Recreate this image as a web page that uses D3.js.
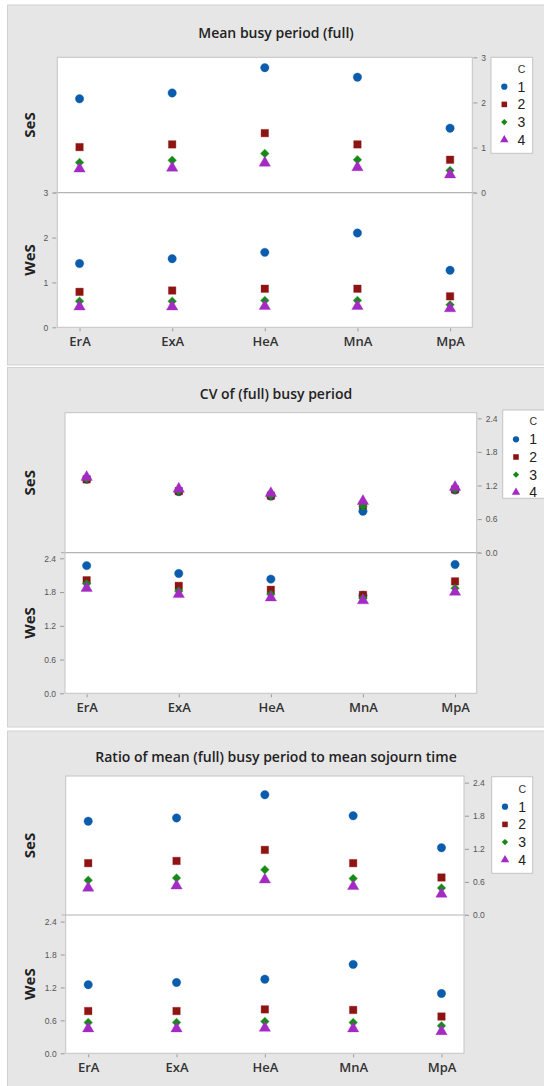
<!DOCTYPE html>
<html><head><meta charset="utf-8">
<script src="https://cdn.jsdelivr.net/npm/d3@7/dist/d3.min.js"></script>
<style>
html,body{margin:0;padding:0;background:#fff;}
svg{display:block;font-family:"Open Sans","Noto Sans",sans-serif;}
</style></head>
<body>
<script>
const categories = ["ErA","ExA","HeA","MnA","MpA"];
const groups = ["1","2","3","4"];
const facets = ["SeS","WeS"];
const titles = ["Mean busy period (full)","CV of (full) busy period","Ratio of mean (full) busy period to mean sojourn time"];
const busyTicks = [0,1,2,3];
const cvTicks = [0,0.6,1.2,1.8,2.4];
const ratioTicks = [0,0.6,1.2,1.8,2.4];

// rows = c 1..4, columns = categories
const busySeS = [[2.08,2.21,2.77,2.56,1.43],[1.01,1.07,1.32,1.07,0.73],[0.67,0.72,0.87,0.73,0.49],[0.53,0.55,0.66,0.56,0.40]];
const busyWeS = [[1.42,1.53,1.67,2.10,1.27],[0.79,0.82,0.86,0.86,0.69],[0.58,0.58,0.60,0.60,0.50],[0.46,0.46,0.47,0.47,0.42]];
const cvSeS = [[1.31,1.09,1.01,0.74,1.12],[1.31,1.10,1.02,0.85,1.13],[1.32,1.10,1.02,0.83,1.13],[1.35,1.14,1.06,0.92,1.17]];
const cvWeS = [[2.27,2.13,2.03,1.74,2.29],[2.01,1.91,1.84,1.75,1.99],[1.95,1.82,1.76,1.69,1.87],[1.87,1.76,1.70,1.65,1.80]];
const ratioSeS = [[1.70,1.76,2.18,1.80,1.22],[0.94,0.98,1.18,0.94,0.68],[0.63,0.67,0.82,0.66,0.49],[0.49,0.53,0.64,0.52,0.38]];
const ratioWeS = [[1.25,1.29,1.35,1.62,1.09],[0.77,0.77,0.80,0.79,0.67],[0.56,0.56,0.58,0.56,0.50],[0.45,0.45,0.46,0.45,0.40]];

const colors = ["#0b5cad","#8e1414","#168a16","#a42ac4"];
const shapes = [d3.symbolCircle,d3.symbolSquare,d3.symbolSquare,d3.symbolTriangle];
const sizes = [56,56,36,56];
const rot = [0,0,45,0];

const svg = d3.select("body").append("svg").attr("width",544).attr("height",1086);
svg.append("rect").attr("width",544).attr("height",1086).attr("fill","#fff");

function panel(o){
  const g = svg.append("g");
  g.append("rect").attr("x",7.5).attr("y",o.py).attr("width",540).attr("height",o.ph)
    .attr("fill","#e6e6e6").attr("stroke","#d2d2d2");
  g.append("text").attr("x",276).attr("y",o.ty).attr("text-anchor","middle")
    .attr("dominant-baseline","central").attr("font-size",14).attr("font-weight",600)
    .attr("fill","#222").text(o.title);
  const x = d3.scalePoint().domain(categories).range([o.left,o.right]).padding(o.pad);
  const yTop = d3.scaleLinear().domain([0,o.max]).range([o.mid,o.top]);
  const yBot = d3.scaleLinear().domain([0,o.max]).range([o.bottom,o.mid]);
  g.append("rect").attr("x",o.left).attr("y",o.top).attr("width",o.right-o.left)
    .attr("height",o.bottom-o.top).attr("fill","#fff");

  const styleAxis = sel=>{
    sel.select(".domain").remove();
    sel.selectAll(".tick line").attr("stroke","#9a9a9a");
    sel.selectAll(".tick text").attr("fill","#555").attr("font-size",8.5)
      .attr("font-family","'Liberation Sans','DejaVu Sans',sans-serif");
  };
  g.append("g").attr("transform",`translate(${o.right+1},0)`)
    .call(d3.axisRight(yTop).tickValues(o.ticks).tickFormat(o.fmt).tickSize(4).tickPadding(4)).call(styleAxis);
  g.append("g").attr("transform",`translate(${o.left-1},0)`)
    .call(d3.axisLeft(yBot).tickValues(o.ticks).tickFormat(o.fmt).tickSize(4).tickPadding(4)).call(styleAxis);
  const xa = g.append("g").attr("transform",`translate(0,${o.bottom+1})`)
    .call(d3.axisBottom(x).tickSize(3).tickPadding(5));
  xa.select(".domain").remove();
  xa.selectAll(".tick line").attr("stroke","#9a9a9a");
  xa.selectAll(".tick text").attr("fill","#333").attr("font-size",13).attr("font-weight",600)
    .attr("font-family","'Open Sans',sans-serif");

  g.append("line").attr("x1",o.left-4).attr("x2",o.right+4).attr("y1",o.mid).attr("y2",o.mid)
    .attr("stroke","#b4b4b4").attr("stroke-width",1.2);
  g.append("rect").attr("x",o.left).attr("y",o.top).attr("width",o.right-o.left)
    .attr("height",o.bottom-o.top).attr("fill","none").attr("stroke","#c4c4c4");

  [[o.dTop,yTop],[o.dBot,yBot]].forEach(([data,y])=>{
    data.forEach((row,gi)=>{
      g.selectAll(null).data(row).enter().append("path")
        .attr("d",d3.symbol().type(shapes[gi]).size(sizes[gi]))
        .attr("transform",(d,i)=>`translate(${x(categories[i])},${y(d)}) rotate(${rot[gi]})`)
        .attr("fill",colors[gi]).attr("stroke",colors[gi]).attr("stroke-opacity",0.35).attr("stroke-width",1);
    });
  });

  facets.forEach((f,i)=>{
    const cy = i===0 ? (o.top+o.mid)/2 : (o.mid+o.bottom)/2;
    g.append("text").attr("transform",`translate(29,${cy}) rotate(-90)`)
      .attr("text-anchor","middle").attr("dominant-baseline","central")
      .attr("font-size",15).attr("font-weight",700).attr("fill","#222").text(f);
  });

  const L = o.leg;
  g.append("rect").attr("x",L.x).attr("y",L.y).attr("width",L.w).attr("height",L.h)
    .attr("fill","#fff").attr("stroke","#c4c4c4");
  g.append("text").attr("x",L.x+30.5).attr("y",L.y+L.c).attr("text-anchor","middle")
    .attr("dominant-baseline","central").attr("font-size",10.5).attr("fill","#333")
    .attr("font-family","'Liberation Sans',sans-serif").text("C");
  groups.forEach((k,i)=>{
    const yy = L.y+L.i0+i*17.7;
    g.append("path").attr("d",d3.symbol().type(shapes[i]).size(sizes[i]*0.55))
      .attr("transform",`translate(${L.x+13.3},${yy}) rotate(${rot[i]})`).attr("fill",colors[i]);
    g.append("text").attr("x",L.x+30.5).attr("y",yy).attr("text-anchor","middle")
      .attr("dominant-baseline","central").attr("font-size",14).attr("fill","#222")
      .attr("font-family","'Liberation Sans',sans-serif").text(k);
  });
}

panel({py:5,ph:360,ty:32.3,title:titles[0],left:57.3,right:472.3,top:57.3,mid:192.7,bottom:327.3,
  pad:0.24,max:3,ticks:busyTicks,fmt:d3.format("d"),dTop:busySeS,dBot:busyWeS,
  leg:{x:491,y:57.3,w:41.7,h:96,c:12,i0:29.4}});
panel({py:367.5,ph:359.5,ty:393.3,title:titles[1],left:65,right:476.7,top:412.7,mid:552.7,bottom:693.3,
  pad:0.235,max:2.5,ticks:cvTicks,fmt:d3.format(".1f"),dTop:cvSeS,dBot:cvWeS,
  leg:{x:502.7,y:410,w:42,h:88.3,c:10.7,i0:29.3}});
panel({py:731,ph:360,ty:756.7,title:titles[2],left:65.7,right:464,top:776,mid:915,bottom:1053.3,
  pad:0.255,max:2.52,ticks:ratioTicks,fmt:d3.format(".1f"),dTop:ratioSeS,dBot:ratioWeS,
  leg:{x:491.7,y:776.7,w:41,h:96.6,c:12.3,i0:30}});
</script>
</body></html>
